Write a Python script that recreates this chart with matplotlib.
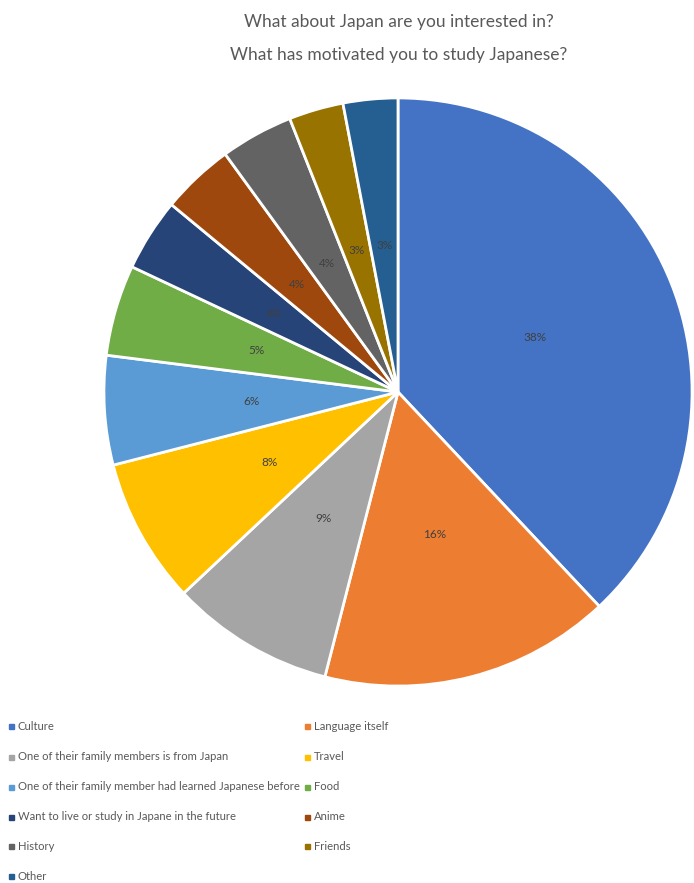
import matplotlib.pyplot as plt
import matplotlib.patches as mpatches

labels = [
    "Culture",
    "Language itself",
    "One of their family members is from Japan",
    "Travel",
    "One of their family member had learned Japanese before",
    "Food",
    "Want to live or study in Japane in the future",
    "Anime",
    "History",
    "Friends",
    "Other",
]
values = [38, 16, 9, 8, 6, 5, 4, 4, 4, 3, 3]
colors = ["#4472C4", "#ED7D31", "#A5A5A5", "#FFC000", "#5B9BD5", "#70AD47",
          "#264478", "#9E480E", "#636363", "#997300", "#255E91"]

W, H = 694, 883
plt.rcParams["font.family"] = ["Lato", "DejaVu Sans"]
fig = plt.figure(figsize=(W / 100, H / 100), dpi=100)

# pie area: centre (398, 392), radius 297 px
cx, cy, r = 398, 392, 297
ax = fig.add_axes([(cx - r) / W, (H - cy - r) / H, 2 * r / W, 2 * r / H])
ax.pie(values, colors=colors, startangle=90, counterclock=False,
       autopct="%d%%", pctdistance=0.5, radius=1,
       wedgeprops={"edgecolor": "white", "linewidth": 2},
       textprops={"fontsize": 8.5, "color": "#404040"})
ax.set_xlim(-1.01, 1.01)
ax.set_ylim(-1.01, 1.01)
ax.set_aspect("equal")
ax.axis("off")

fig.text(399 / W, 1 - 22 / H, "What about Japan are you interested in?",
         ha="center", va="center", fontsize=12.5, color="#595959")
fig.text(399 / W, 1 - 55 / H, "What has motivated you to study Japanese?",
         ha="center", va="center", fontsize=12.5, color="#595959")

# legend, two columns
rows_y = [726, 757, 787, 817, 846, 876]
col_x = [11, 307]
for i, (lab, col) in enumerate(zip(labels, colors)):
    x = col_x[i % 2]
    y = rows_y[i // 2]
    fig.patches.append(mpatches.Rectangle((x / W - 2.5 / W, 1 - y / H - 2.5 / H), 5 / W, 5 / H,
                                          transform=fig.transFigure, color=col))
    fig.text((x + 7) / W, 1 - y / H, lab, ha="left", va="center",
             fontsize=8.1, color="#595959")

fig.savefig("out.png", dpi=100)
